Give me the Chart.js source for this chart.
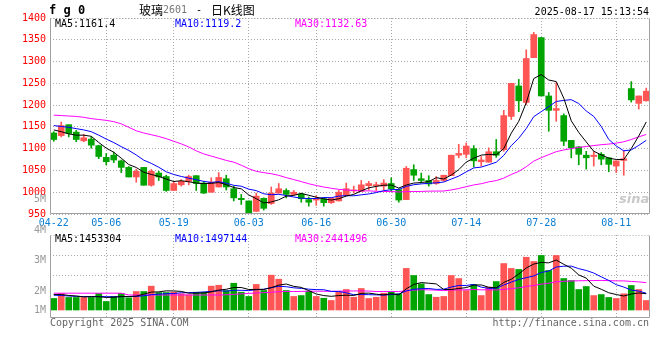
<!DOCTYPE html>
<html><head><meta charset="utf-8">
<script src="https://cdn.jsdelivr.net/npm/chart.js@4.4.0/dist/chart.umd.min.js"></script>
<style>
html,body{margin:0;padding:0;background:#fff;}
#wrap{position:relative;width:660px;height:360px;overflow:hidden;font-family:"DejaVu Sans Mono",monospace;font-size:10px;color:#000;}
canvas{position:absolute;left:0;}
.t{position:absolute;white-space:pre;line-height:12px;}
</style></head><body>
<div id="wrap">
<canvas id="pc" width="660" height="235" style="top:0"></canvas>
<canvas id="vc" width="660" height="170" style="top:190px"></canvas>
<div class="t" style="left:49px;top:4px;font-weight:bold;font-size:12px;">f g 0</div>
<div class="t" style="left:139px;top:4px;font-family:'Noto Sans CJK SC';font-size:12px;">玻璃</div>
<div class="t" style="left:163px;top:4px;color:#777;">2601</div>
<div class="t" style="left:196px;top:4px;">-</div>
<div class="t" style="left:211px;top:4px;font-family:'Noto Sans CJK SC';font-size:12px;">日K线图</div>
<div class="t" style="right:11px;top:6px;">2025-08-17 15:13:54</div>
<div class="t" id="pm5" style="left:55px;top:18px;color:#000;"></div>
<div class="t" id="pm10" style="left:175px;top:18px;color:#0000ff;"></div>
<div class="t" id="pm30" style="left:295px;top:18px;color:#ff00ff;"></div>
<div class="t" id="vm5" style="left:55px;top:233px;color:#000;"></div>
<div class="t" id="vm10" style="left:175px;top:233px;color:#0000ff;"></div>
<div class="t" id="vm30" style="left:295px;top:233px;color:#ff00ff;"></div>
<div class="t" style="left:50px;top:317px;color:#666;">Copyright 2025 SINA.COM</div>
<div class="t" style="right:11px;top:317px;color:#666;">http://finance.sina.com.cn</div>
<div class="t" style="left:619px;top:193px;color:#c8c8c8;font-family:'DejaVu Sans';font-style:italic;font-weight:bold;font-size:13px;">sina</div>
</div>
<script>
const dates = ['04-22','04-23','04-24','04-25','04-28','04-29','04-30',
'05-06','05-07','05-08','05-09','05-12','05-13','05-14','05-15','05-16','05-19','05-20','05-21','05-22','05-23','05-26','05-27','05-28','05-29','05-30',
'06-03','06-04','06-05','06-06','06-09','06-10','06-11','06-12','06-13','06-16','06-17','06-18','06-19','06-20','06-23','06-24','06-25','06-26','06-27','06-30',
'07-01','07-02','07-03','07-04','07-07','07-08','07-09','07-10','07-11','07-14','07-15','07-16','07-17','07-18','07-21','07-22','07-23','07-24','07-25','07-28','07-29','07-30','07-31',
'08-01','08-04','08-05','08-06','08-07','08-08','08-11','08-12','08-13','08-14','08-15'];
const tickDates = ['04-22','05-06','05-19','06-03','06-16','06-30','07-14','07-28','08-11'];

const open  = [1136,1130,1155,1138,1118,1122,1107,1080,1085,1072,1057,1035,1057,1016,1044,1036,1004,1017,1025,1038,
1021,1000,1012,1031,1008,986,980,956,986,974,998,1004,995,996,983,982,985,976,980,992,
1003,1002,1015,1015,1014,1020,1006,983,1052,1031,1027,1020,1027,1038,1085,1087,1100,1070,1069,1093,
1098,1174,1244,1206,1309,1355,1221,1188,1176,1119,1104,1085,1082,1087,1079,1060,1073,1238,1204,1210];
const high  = [1139,1161,1155,1142,1133,1127,1108,1089,1092,1074,1059,1053,1057,1052,1048,1039,1025,1029,1039,1038,
1025,1033,1045,1039,1014,995,980,998,987,1012,1020,1008,1004,998,989,992,987,987,1004,1021,
1014,1027,1025,1023,1029,1033,1008,1059,1063,1044,1038,1036,1039,1085,1110,1113,1107,1082,1102,1121,
1188,1250,1259,1327,1367,1355,1229,1251,1180,1119,1105,1094,1094,1091,1079,1072,1095,1254,1221,1239];
const low   = [1117,1127,1127,1116,1116,1101,1077,1063,1068,1045,1035,1023,1016,1014,1027,1002,1004,1014,1017,1004,
997,1000,1012,1005,980,972,951,956,959,972,998,987,993,977,968,970,968,974,980,992,
998,1002,1005,1004,1005,1002,977,983,1027,1021,1014,1018,1025,1038,1079,1079,1058,1060,1069,1080,
1094,1167,1185,1201,1309,1221,1140,1163,1107,1079,1063,1053,1060,1063,1047,1045,1039,1207,1191,1209];
const close = [1121,1153,1135,1121,1125,1108,1082,1070,1074,1057,1035,1048,1016,1048,1035,1004,1020,1025,1036,1020,
998,1023,1034,1012,987,983,953,991,963,998,1008,995,1000,985,977,986,976,986,1000,1008,
1005,1017,1020,1017,1021,1008,982,1055,1039,1027,1019,1027,1039,1085,1089,1106,1072,1074,1093,1085,
1176,1250,1210,1307,1362,1221,1188,1192,1117,1102,1087,1079,1085,1076,1064,1072,1077,1212,1221,1232];

const ma5 = [1143,1139,1134,1131,1131,1128.4,1114.2,1101.2,1091.8,1078.2,1063.6,1056.8,1046,1040.8,1036.4,1030.2,1024.6,1026.4,1024,1021,
1019.8,1020.4,1022.2,1017.4,1010.8,1007.8,993.8,985.2,975.4,977.6,982.6,991,992.8,997.2,993,988.6,984.8,982,985,991.2,
995,1003.2,1010,1013.4,1016,1016.6,1009.6,1016.6,1021,1022.2,1024.4,1033.4,1030.2,1039.4,1051.8,1069.2,1078.2,1085.2,1086.8,1086,
1100,1135.6,1162.8,1205.6,1261,1270,1257.6,1254,1216,1164,1137.2,1115.4,1094,1085.8,1078.2,1075.2,1074.8,1100.2,1129.2,1161.4];
const ma10 = [1153,1151,1149,1146,1143,1139,1131,1122,1114,1104.6,1096.0,1085.5,1073.6,1066.3,1057.3,1046.9,1040.7,1036.2,1032.4,1028.7,
1025.0,1022.5,1024.3,1020.7,1015.9,1013.8,1007.1,1003.7,996.4,994.2,995.2,992.4,989.0,986.3,985.3,985.6,987.9,987.4,991.1,992.1,
991.8,994.0,996.0,999.2,1003.6,1005.8,1006.4,1013.3,1017.2,1019.1,1020.5,1021.5,1023.4,1030.2,1037.0,1046.8,1055.8,1057.7,1063.1,1068.9,
1084.6,1106.9,1124.0,1146.2,1173.5,1185.0,1196.6,1208.4,1210.8,1212.5,1203.6,1186.5,1174.0,1150.9,1121.1,1106.2,1095.1,1097.1,1107.5,1119.2];
const ma30 = [1177,1176,1175,1174,1172,1169,1167,1165,1162,1157,1149,1141,1136,1132,1128,1123,1117,1111,1104,1095,
1088,1083,1078,1073,1069,1062,1054,1048,1045,1042.5,1038.7,1033.5,1029.0,1024.4,1019.5,1015.4,1011.9,1009.1,1006.6,1005.0,
1004.0,1003.0,1003.1,1002.1,1001.6,1001.7,1000.5,1001.5,1001.6,1001.8,1002.5,1002.6,1002.8,1005.2,1008.6,1012.7,1016.7,1019.5,1023.8,1026.7,
1032.3,1040.8,1047.8,1058.5,1071.4,1079.2,1086.3,1093.1,1097.0,1100.2,1102.9,1105.0,1107.1,1109.1,1110.5,1112.7,1115.8,1121.1,1127.1,1132.63];

// volume in millions
const volumeM = [1.03,1.47,1.12,1.12,1.12,1.12,1.47,0.76,1.21,1.47,1.09,1.65,1.65,2.13,1.56,1.56,1.59,1.45,1.36,1.59,
1.59,2.13,2.21,1.74,2.39,1.59,1.21,2.28,1.74,3.11,2.75,1.74,1.21,1.29,1.68,1.21,1.05,0.85,1.65,1.83,
1.14,1.92,1.03,1.14,1.50,1.65,1.45,3.71,3.08,2.34,1.38,1.14,1.21,3.08,2.81,1.74,2.28,1.29,2.04,2.54,
4.15,3.71,3.62,4.71,4.33,4.87,3.53,4.87,2.81,2.63,1.83,2.10,1.29,1.38,1.12,1.03,1.45,2.19,1.83,0.85];
const vma5 = [1.38,1.38,1.30,1.25,1.17,1.19,1.19,1.12,1.14,1.21,1.20,1.24,1.41,1.60,1.62,1.71,1.70,1.66,1.50,1.51,
1.52,1.62,1.78,1.85,2.01,2.01,1.83,1.84,1.84,1.99,2.22,2.32,2.11,2.02,1.73,1.43,1.29,1.22,1.29,1.32,
1.30,1.48,1.51,1.41,1.35,1.45,1.35,1.89,2.28,2.45,2.39,2.33,1.83,1.83,1.92,2.00,2.22,2.24,2.03,1.98,
2.46,2.75,3.21,3.75,4.10,4.25,4.21,4.46,4.08,3.74,3.13,2.85,2.13,1.85,1.54,1.38,1.25,1.43,1.52,1.453304];
const vma10 = [1.32,1.30,1.25,1.22,1.20,1.20,1.20,1.19,1.18,1.19,1.20,1.21,1.27,1.37,1.41,1.46,1.47,1.54,1.55,1.56,
1.61,1.66,1.72,1.68,1.76,1.76,1.73,1.81,1.85,2.00,2.12,2.08,1.98,1.93,1.86,1.82,1.81,1.66,1.65,1.53,
1.37,1.38,1.37,1.35,1.33,1.38,1.42,1.70,1.85,1.90,1.92,1.84,1.86,2.05,2.19,2.19,2.28,2.04,1.93,1.95,
2.23,2.49,2.73,2.89,3.04,3.35,3.48,3.84,3.91,3.92,3.69,3.53,3.30,2.96,2.64,2.26,2.05,1.78,1.69,1.497144];
const vma30 = [1.50,1.50,1.50,1.50,1.50,1.50,1.50,1.50,1.50,1.50,1.34,1.34,1.34,1.34,1.34,1.34,1.34,1.34,1.34,1.34,
1.34,1.34,1.34,1.36,1.40,1.44,1.48,1.52,1.55,1.58,1.64,1.65,1.65,1.66,1.68,1.68,1.67,1.67,1.68,1.70,
1.70,1.71,1.69,1.65,1.65,1.65,1.65,1.72,1.78,1.81,1.80,1.77,1.73,1.78,1.79,1.80,1.83,1.80,1.81,1.79,
1.84,1.90,1.98,2.10,2.19,2.31,2.39,2.52,2.56,2.59,2.61,2.62,2.63,2.64,2.62,2.60,2.60,2.55,2.51,2.441496];

const priceMin = 950, priceMax = 1400, priceStep = 50;
const volLabels = [5,4,3,2,1];

const UP = '#ff5555', DOWN = '#00a400';
const GRID = '#a8a8a8', FRAME = '#a0a0a0';
const FONT = {family:'DejaVu Sans Mono', size:10};
const candleColors = close.map((c,i)=> c >= open[i] ? UP : DOWN);
const last = close.length - 1;

document.getElementById('pm5').textContent = 'MA5:' + ma5[last];
document.getElementById('pm10').textContent = 'MA10:' + ma10[last];
document.getElementById('pm30').textContent = 'MA30:' + ma30[last];
document.getElementById('vm5').textContent = 'MA5:' + Math.round(vma5[last]*1e6);
document.getElementById('vm10').textContent = 'MA10:' + Math.round(vma10[last]*1e6);
document.getElementById('vm30').textContent = 'MA30:' + Math.round(vma30[last]*1e6);

const frame = {
  id:'frame',
  afterDraw(chart){
    const {ctx, chartArea:a} = chart;
    const L=a.left+0.5, R=a.right-0.5, T=a.top+0.5, B=a.bottom-0.5;
    ctx.save();
    ctx.lineWidth=1; ctx.strokeStyle=FRAME;
    ctx.beginPath(); ctx.moveTo(L,T); ctx.lineTo(L,B); ctx.lineTo(R,B); ctx.lineTo(R,T); ctx.stroke();
    ctx.setLineDash([1,2]); ctx.strokeStyle=GRID;
    ctx.beginPath(); ctx.moveTo(L,T); ctx.lineTo(R,T); ctx.stroke();
    ctx.restore();
  }
};
const volLabelPlugin = {
  id:'volLabels',
  afterDraw(chart){
    const s = chart.scales.yL, a = chart.chartArea, ctx = chart.ctx;
    ctx.save();
    ctx.font = '10px "DejaVu Sans Mono"'; ctx.fillStyle = '#999';
    ctx.textAlign = 'right'; ctx.textBaseline = 'middle';
    volLabels.forEach(v => {
      let y = s.getPixelForValue(v);
      y = Math.min(y, a.bottom - 7.3);
      ctx.fillText(v + 'M', 46, y);
    });
    ctx.restore();
  }
};

function lineDs(data, color){
  return {type:'line', data, borderColor:color, borderWidth:1, pointRadius:0, tension:0, fill:false, order:0};
}
const xGridColor = c => (c.index > 0 && tickDates.includes(dates[c.index])) ? GRID : 'rgba(0,0,0,0)';

new Chart(document.getElementById('pc'), {
  type:'bar',
  data:{ labels: dates, datasets:[
    lineDs(ma5,'#000000'), lineDs(ma10,'#0000ff'), lineDs(ma30,'#ff00ff'),
    {data: dates.map((d,i)=>[open[i], close[i]]), backgroundColor: candleColors, barThickness:6, minBarLength:1, grouped:false, order:1},
    {data: dates.map((d,i)=>[low[i], high[i]]), backgroundColor: candleColors, barThickness:1, grouped:false, order:2}
  ]},
  options:{
    responsive:false, animation:false, events:[],
    layout:{padding:{top:18,right:10,left:0,bottom:0}},
    plugins:{legend:{display:false}, tooltip:{enabled:false}},
    scales:{
      x:{ type:'category', offset:true,
        grid:{offset:false, color:xGridColor, drawTicks:false},
        border:{display:false, dash:[1,2]},
        ticks:{autoSkip:false, maxRotation:0, padding:3, color:'#0a7fd4', font:FONT,
          callback:(v)=> tickDates.includes(dates[v]) ? dates[v] : ''},
        afterFit(s){ s.height = 21; } },
      y:{ min:priceMin, max:priceMax,
        ticks:{stepSize:priceStep, color:'#ff0000', padding:4, font:FONT, callback:(v)=> String(v)},
        grid:{color:GRID, drawTicks:false},
        border:{display:false, dash:[1,2]},
        afterFit(s){ s.width = 50; } }
    }
  },
  plugins:[frame]
});

new Chart(document.getElementById('vc'), {
  type:'bar',
  data:{ labels: dates, datasets:[
    lineDs(vma5,'#000000'), lineDs(vma10,'#0000ff'), lineDs(vma30,'#ff00ff'),
    {data: volumeM, backgroundColor: candleColors, barThickness:6, order:1}
  ]},
  options:{
    responsive:false, animation:false, events:[],
    layout:{padding:{top:45,right:10,left:0,bottom:42}},
    plugins:{legend:{display:false}, tooltip:{enabled:false}},
    scales:{
      x:{ type:'category', offset:true,
        grid:{offset:false, color:xGridColor, drawTicks:false},
        border:{display:false, dash:[1,2]},
        ticks:{display:false, autoSkip:false},
        afterFit(s){ s.height = 0; } },
      y:{ min:-0.714, max:6.696,
        ticks:{display:false},
        grid:{color:GRID, drawTicks:false},
        border:{display:false, dash:[1,2]},
        afterBuildTicks(s){ const r = s.max - s.min; s.ticks = [{value:s.max - r*0.25},{value:s.max - r*0.49}]; },
        afterFit(s){ s.width = 50; } },
      yL:{ display:false, min:1.125, max:3.846 }
    }
  },
  plugins:[frame, volLabelPlugin]
});
</script>
</body></html>
